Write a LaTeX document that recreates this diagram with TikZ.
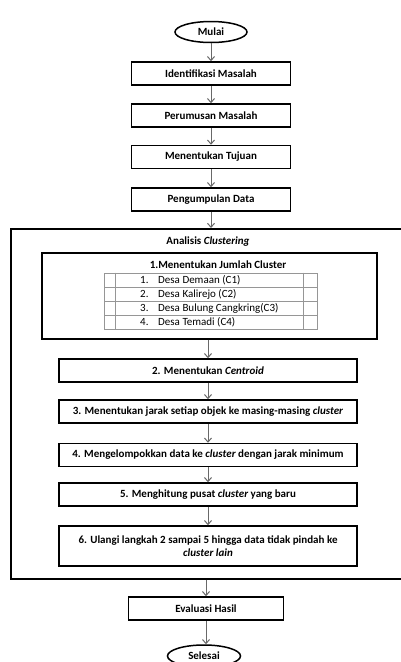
\documentclass[tikz,border=0pt]{standalone}
\usepackage{fontspec}
\setmainfont{Carlito}
\usetikzlibrary{shapes.geometric, positioning, arrows.meta}
\definecolor{arrowgray}{RGB}{105,105,105}
\definecolor{tablegray}{RGB}{150,150,150}

\begin{document}
\begin{tikzpicture}[
    x=1pt, y=-1pt,
    proc/.style={rectangle, draw=black, line width=1.5pt, minimum height=23pt, inner sep=0pt, align=center, font=\bfseries\fontsize{11}{13}\selectfont},
    term/.style={ellipse, draw=black, line width=1.5pt, minimum width=72pt, minimum height=21pt, inner sep=0pt, font=\bfseries\fontsize{11}{13}\selectfont},
    frame/.style={rectangle, draw=black, line width=1.5pt, anchor=north west, inner sep=0pt},
    label/.style={font=\bfseries\fontsize{11}{13}\selectfont, inner sep=0pt},
    tabrow/.style={rectangle, draw=tablegray, line width=0.6pt, minimum width=213pt, minimum height=14pt, inner sep=0pt},
    rowtext/.style={anchor=west, inner sep=0pt, font=\fontsize{11}{13}\selectfont},
    arrow/.style={-{Straight Barb[length=4pt, width=7pt]}, arrowgray, line width=1pt}
]
    \useasboundingbox (0,0) rectangle (400,662);

    % Start and preparation
    \node[term] (mulai) at (211,32) {Mulai};
    \node[proc, minimum width=159pt] (ident) at (211,73.5) {Identifikasi Masalah};
    \node[proc, minimum width=159pt] (rumus) at (211,115.5) {Perumusan Masalah};
    \node[proc, minimum width=159pt] (tujuan) at (211,157) {Menentukan Tujuan};
    \node[proc, minimum width=159pt] (kumpul) at (211,199.5) {Pengumpulan Data};

    % Clustering frame
    \node[frame, minimum width=394pt, minimum height=350pt] (outer) at (10,228) {};
    \node[label] (judul) at (208,242) {Analisis \textit{Clustering}};

    % Step 1 with table of clusters
    \node[frame, minimum width=335pt, minimum height=86pt] (langkah1) at (41,252) {};
    \node[label] (judul1) at (218,265) {1.Menentukan Jumlah Cluster};
    \foreach \txt [count=\n] in {{Desa Demaan (C1)}, {Desa Kalirejo (C2)}, {Desa Bulung Cangkring(C3)}, {Desa Temadi (C4)}} {
        \node[tabrow] (row\n) at (210.5,266+14*\n) {};
        \node[rowtext] (num\n) at (140,266+14*\n) {\n.};
        \node[rowtext] (desa\n) at (158,266+14*\n) {\txt};
        \draw[tablegray, line width=0.6pt] ([xshift=12pt]row\n.north west) -- ([xshift=12pt]row\n.south west);
        \draw[tablegray, line width=0.6pt] ([xshift=-14pt]row\n.north east) -- ([xshift=-14pt]row\n.south east);
    }

    % Steps 2 to 6
    \node[proc, minimum width=298pt] (langkah2) at (208,370.5) {2. Menentukan \textit{Centroid}};
    \node[proc, minimum width=298pt] (langkah3) at (208,411.5) {3. Menentukan jarak setiap objek ke masing-masing \textit{cluster}};
    \node[proc, minimum width=298pt] (langkah4) at (208,455) {4. Mengelompokkan data ke \textit{cluster} dengan jarak minimum};
    \node[proc, minimum width=298pt] (langkah5) at (208,494.5) {5. Menghitung pusat \textit{cluster} yang baru};
    \node[proc, minimum width=298pt, minimum height=40pt] (langkah6) at (208,546) {6. Ulangi langkah 2 sampai 5 hingga data tidak pindah ke\\\textit{cluster lain}};

    % Evaluation and end
    \node[proc, minimum width=155pt] (evaluasi) at (206,608.5) {Evaluasi Hasil};
    \node[term, minimum width=73pt, minimum height=22pt] (selesai) at (204,656) {Selesai};

    % Arrows
    \draw[arrow] (mulai) -- (ident);
    \draw[arrow] (ident) -- (rumus);
    \draw[arrow] (rumus) -- (tujuan);
    \draw[arrow] (tujuan) -- (kumpul);
    \draw[arrow] (kumpul.south) -- (kumpul.south |- outer.north);
    \draw[arrow] (langkah1.south -| langkah2) -- (langkah2.north);
    \draw[arrow] (langkah2) -- (langkah3);
    \draw[arrow] (langkah3) -- (langkah4);
    \draw[arrow] (langkah4) -- (langkah5);
    \draw[arrow] (langkah5) -- (langkah6);
    \draw[arrow] (outer.south -| evaluasi) -- (evaluasi.north);
    \draw[arrow] (evaluasi.south) -- (evaluasi.south |- selesai.north);
\end{tikzpicture}
\end{document}
